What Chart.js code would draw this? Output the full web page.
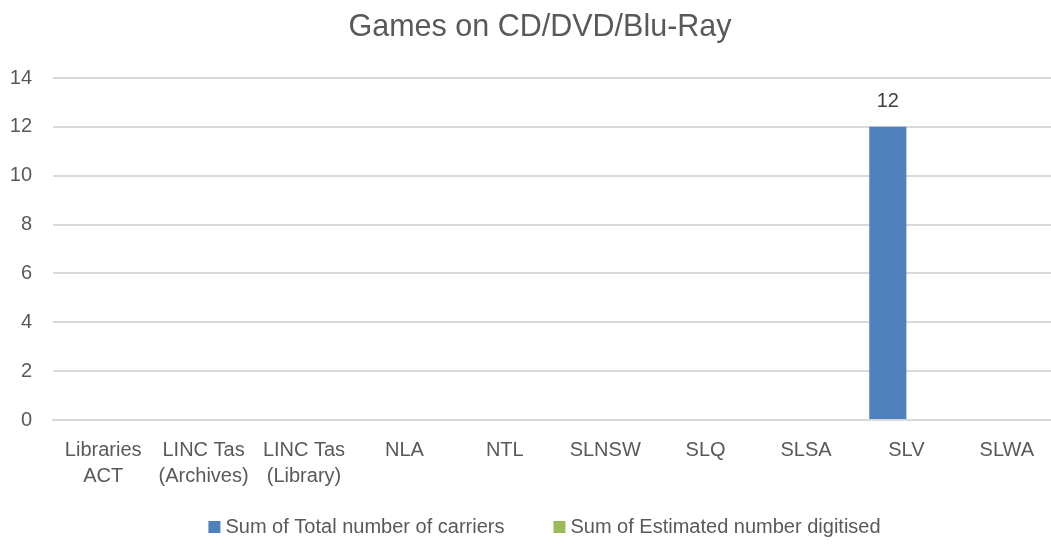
<!DOCTYPE html>
<html><head><meta charset="utf-8">
<script src="https://cdn.jsdelivr.net/npm/chart.js@4"></script>
<style>html,body{margin:0;padding:0;background:#fff;overflow:hidden}#wrap{width:1051px;height:544px;overflow:hidden}canvas{display:block}</style>
</head><body><div id="wrap"><canvas id="c" width="1080" height="544"></canvas></div>
<script>
const categories = [["Libraries","ACT"],["LINC Tas","(Archives)"],["LINC Tas","(Library)"],"NLA","NTL","SLNSW","SLQ","SLSA","SLV","SLWA"];
const totalCarriers = [0,0,0,0,0,0,0,0,12,0];
const estimatedDigitised = [0,0,0,0,0,0,0,0,0,0];
const yTicks = [0,2,4,6,8,10,12,14];
const chartTitle = 'Games on CD/DVD/Blu-Ray';
const seriesNames = ['Sum of Total number of carriers','Sum of Estimated number digitised'];
const seriesColors = ['#4F81BD','#9BBB59'];

const FONT = '"Liberation Sans", Arial, sans-serif';

const extras = {
  id:'extras',
  afterDatasetsDraw(chart){
    const ctx = chart.ctx;
    const meta = chart.getDatasetMeta(0);
    ctx.save();
    ctx.textAlign = 'center';
    ctx.textBaseline = 'middle';
    // title
    ctx.font = '30.5px ' + FONT;
    ctx.fillStyle = '#595959';
    ctx.fillText(chartTitle, 540, 28);
    // data label
    ctx.font = '20px ' + FONT;
    ctx.fillStyle = '#404040';
    meta.data.forEach((b,i)=>{
      const v = totalCarriers[i];
      if (v > 0) ctx.fillText(String(v), b.x, b.y - 25);
    });
    // legend
    ctx.font = '20px ' + FONT;
    ctx.textAlign = 'left';
    const w = seriesNames.map(t=>ctx.measureText(t).width);
    const box = 12, gapT = 5, gapI = 49;
    const total = box+gapT+w[0]+gapI+box+gapT+w[1];
    let x = 544.5 - total/2;
    const y = 527;
    seriesNames.forEach((t,i)=>{
      ctx.fillStyle = seriesColors[i];
      ctx.fillRect(x, y-6, box, box);
      x += box + gapT;
      ctx.fillStyle = '#595959';
      ctx.fillText(t, x, y);
      x += w[i] + gapI;
    });
    ctx.restore();
  }
};

new Chart(document.getElementById('c'), {
  type:'bar',
  data:{labels:categories, datasets:[
    {label:seriesNames[0], data:totalCarriers, backgroundColor:seriesColors[0]},
    {label:seriesNames[1], data:estimatedDigitised, backgroundColor:seriesColors[1]}
  ]},
  options:{
    responsive:false, animation:false,
    layout:{padding:{left:0,right:23,top:78,bottom:0}},
    plugins:{
      title:{display:false},
      legend:{display:false},
      tooltip:{enabled:false}
    },
    datasets:{bar:{categoryPercentage:0.74,barPercentage:1}},
    scales:{
      x:{grid:{display:false,drawTicks:false},border:{display:true,color:'#d9d9d9',width:2},
        afterFit(ax){ax.height=124;},
        ticks:{color:'#595959',padding:17,maxRotation:0,autoSkip:false,
          font:{family:FONT,size:20,lineHeight:1.3}}},
      y:{min:0,max:14,afterBuildTicks(ax){ax.ticks=yTicks.map(v=>({value:v}));},
        afterFit(ax){ax.width=53;},
        grid:{color:'#d9d9d9',lineWidth:2,drawTicks:false},border:{display:false},
        ticks:{color:'#595959',padding:21,font:{family:FONT,size:20}}}
    }
  },
  plugins:[extras]
});
</script></body></html>
